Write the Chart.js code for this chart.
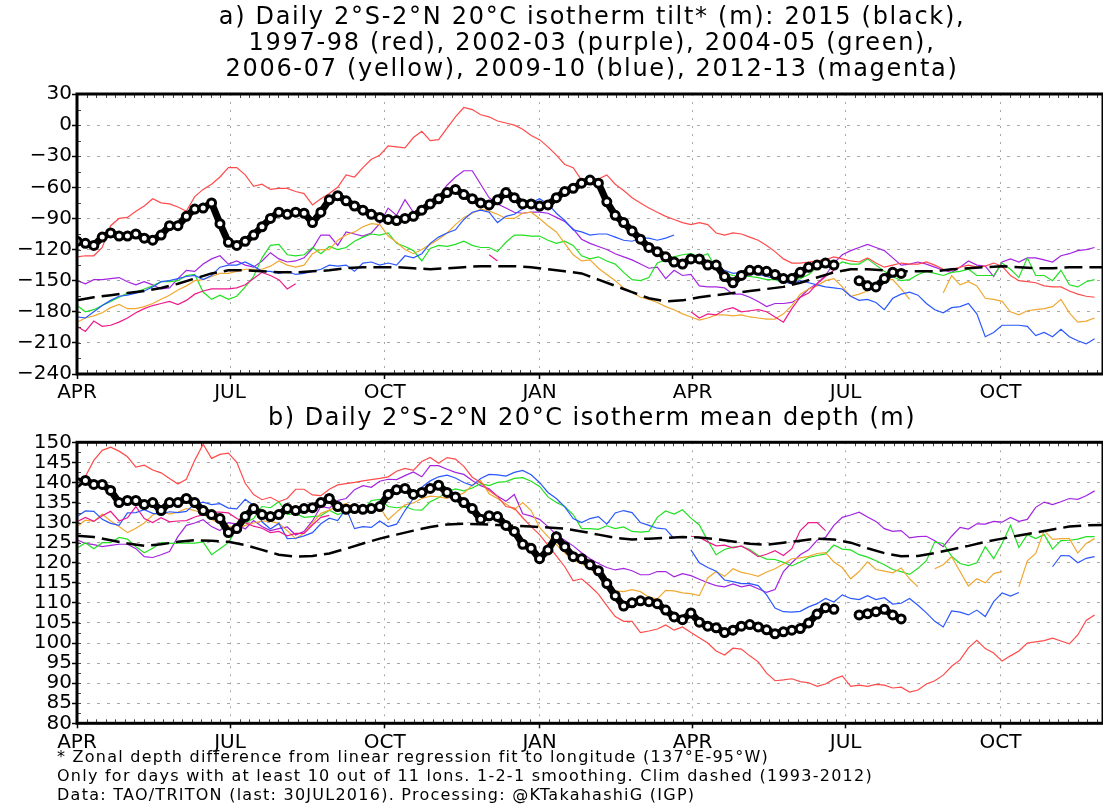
<!DOCTYPE html>
<html><head><meta charset="utf-8">
<script src="https://cdn.jsdelivr.net/npm/chart.js@4.4.1/dist/chart.umd.min.js"></script>
<style>
html,body{margin:0;padding:0;background:#fff;overflow:hidden;width:1103px;height:809px;}
canvas{position:absolute;left:0;}
#c1{top:0;} #c2{top:400px;}
.t{position:absolute;left:0;width:1184px;text-align:center;font-family:"DejaVu Sans",sans-serif;color:#000;white-space:nowrap;font-size:24px;line-height:26px;letter-spacing:1.7px;}
.f{position:absolute;left:57px;font-family:"DejaVu Sans",sans-serif;color:#000;white-space:nowrap;font-size:16px;line-height:19px;letter-spacing:1.25px;}
</style></head>
<body>
<canvas id="c1" width="1110" height="410"></canvas>
<canvas id="c2" width="1110" height="360"></canvas>
<div class="t" style="top:3px">a) Daily 2°S-2°N 20°C isotherm tilt* (m): 2015 (black),</div>
<div class="t" style="top:29px">1997-98 (red), 2002-03 (purple), 2004-05 (green),</div>
<div class="t" style="top:55px">2006-07 (yellow), 2009-10 (blue), 2012-13 (magenta)</div>
<div class="t" style="top:404px;letter-spacing:1.5px">b) Daily 2°S-2°N 20°C isotherm mean depth (m)</div>
<div class="f" style="top:747px">* Zonal depth difference from linear regression fit to longitude (137°E-95°W)</div>
<div class="f" style="top:766px">Only for days with at least 10 out of 11 lons. 1-2-1 smoothing. Clim dashed (1993-2012)</div>
<div class="f" style="top:785px">Data: TAO/TRITON (last: 30JUL2016). Processing: @KTakahashiG (IGP)</div>
<script>
// ---- x categories: days since 1 April (5-day samples) ----
const days = [0,5,10,15,20,25,30,35,40,45,50,55,60,65,70,75,80,85,90,95,100,105,110,115,120,125,130,135,140,145,150,155,160,165,170,175,180,185,190,195,200,205,210,215,220,225,230,235,240,245,250,255,260,265,270,275,280,285,290,295,300,305,310,315,320,325,330,335,340,345,350,355,360,365,370,375,380,385,390,395,400,405,410,415,420,425,430,435,440,445,450,455,460,465,470,475,480,485,490,495,500,505,510,515,520,525,530,535,540,545,550,555,560,565,570,575,580,585,590,595,600,605,610];
const climDays = [0,10,20,30,40,50,60,70,80,90,100,110,120,130,140,150,160,170,180,190,200,210,220,230,240,250,260,270,280,290,300,310,320,330,340,350,360,370,380,390,400,410,420,430,440,450,460,470,480,490,500,510,520,530,540,550,560,570,580,590,600,610];
const monthTicks = [0,91,183,275,366,457,549];
const monthLabels = ['APR','JUL','OCT','JAN','APR','JUL','OCT'];
const tiltTicks = [30,0,-30,-60,-90,-120,-150,-180,-210,-240];
const depthTicks = [150,145,140,135,130,125,120,115,110,105,100,95,90,85,80];
const N = null;

// ---- a) tilt (m) ----
const tiltBlack = [-112,-114,-116,-108,-104,-107,-107,-105,-109,-111,
-106,-97,-97,-88,-81,-80,-75,-95,-113,-116,
-112,-106,-98,-90,-84,-86,-84,-85,-94,-84,
-72,-68,-73,-78,-82,-86,-89,-91,-92,-90,
-88,-82,-76,-71,-65,-62,-67,-71,-75,-77,
-72,-65,-70,-76,-76,-78,-77,-70,-64,-61,
-56,-53,-56,-74,-87,-94,-102,-110,-118,-122,
-127,-132,-134,-129,-129,-135,-135,-146,-152,-145,
-140,-140,-141,-144,-148,-148,-142,-137,-135,-133,
-135,N,N,-150,-155,-156,-148,-142,-143,N,
N,N,N,N,N,N,N,N,N,N,
N,N,N,N,N,N,N,N,N,N,
N,N,N];
const tiltRed = [-127,-126,-126,-118,-97,-90,-89,-83,-78,-71,
-75,-76,-79,-83,-69,-62,-57,-50,-41,-41,
-48,-59,-57,-62,-61,-61,-64,-66,-77,-71,
-66,-60,-48,-50,-41,-33,-29,-20,-21,-22,
-12,-6,-15,-14,-3,8,17,15,10,8,
4,2,0,-4,-10,-14,-21,-29,-38,-41,
-53,-54,-52,-48,-57,-63,-70,-75,-80,-84,
-88,-91,-94,-96,-94,-96,-104,-106,-104,-105,
-108,-111,-116,-122,-129,-133,-133,-132,-131,-130,
-127,-129,-131,-132,-128,-133,-137,-135,-133,-134,
-134,-132,-135,-139,-140,-137,-135,-137,-136,-133,
-136,-145,-150,-151,-152,-155,-156,-156,-160,-163,
-165,-166,N];
const tiltPurple = [-150,-153,-149,-149,-148,-147,-151,-154,-151,-154,
-158,-157,-148,-140,-141,-134,-129,-126,-134,-131,
-135,-137,-131,-123,-129,-132,-131,-128,-119,-106,
-106,-116,-103,-105,-107,-104,-95,-80,-87,-72,
-84,-80,-74,-69,-58,-50,-44,-44,-57,-70,
-76,-80,-84,-85,-84,-84,-85,-89,-93,-100,
-110,-114,-117,-120,-124,-127,-130,-134,-138,-137,
-148,-140,-145,-144,-155,-156,-156,-157,-163,-163,
-166,-170,-175,-172,-172,-171,-166,-158,-153,-145,
-133,-125,-121,-118,-115,-118,-121,-128,-135,-134,
-132,-134,-137,-140,-142,-137,-131,-135,-136,-146,
-132,-129,-132,-128,-128,-130,-132,-126,-124,-121,
-120,-118,N];
const tiltGreen = [-174,-180,-178,-174,-170,-166,-162,-161,-158,-155,
-151,-151,-150,-145,-144,-161,-168,-164,-168,-165,
-156,-146,-128,-116,-115,-125,-126,-125,-118,-124,
-117,-120,-118,-112,-108,-105,-106,-104,-114,-117,
-121,-131,-119,-116,-117,-115,-112,-116,-118,-118,
-122,-113,-106,-106,-107,-107,-111,-114,-112,-116,
-126,-129,-127,-131,-134,-142,-149,-150,-147,-133,
-130,-127,-125,-124,-127,-124,-138,-143,-145,-146,
-146,-147,-149,-149,-152,-150,-148,-144,-137,-134,
-137,-132,-134,-134,-129,-135,-141,-146,-150,-149,
-144,-141,-143,-145,-142,-141,-139,-145,-145,-145,
-133,-139,-147,-128,-145,-145,-150,-140,-154,-156,
-151,-149,N];
const tiltYellow = [-190,-186,-184,-181,-176,-173,-177,-177,-175,-172,
-168,-164,-159,-155,-150,-149,-146,-143,-143,-141,
-139,-139,-139,-136,-131,-135,-137,-135,-124,-120,
-120,-111,-106,-103,-98,-95,-96,-107,-113,-120,
-124,-120,-115,-110,-104,-96,-89,-85,-81,-83,
-86,-90,-90,-85,-84,-90,-97,-103,-114,-125,
-131,-130,-138,-144,-150,-157,-161,-166,-168,-171,
-175,-178,-182,-185,-188,-186,-183,-183,-184,-183,
-185,-186,-187,-187,-182,-174,-163,-158,-155,-150,
-148,-156,-165,-163,-160,-155,-149,-149,-158,-168,
N,N,N,-162,-145,-154,-151,-155,-167,-168,
-170,-180,-183,-179,-178,-177,-175,-168,-181,-190,
-189,-186,N];
const tiltBlue = [-185,-186,-180,-174,-169,-165,-164,-162,-160,-156,
-151,-150,-148,-146,-145,-149,-145,-137,-135,-135,
-132,-136,-141,-141,-143,-141,-144,-143,-141,-139,
-135,-136,-135,-141,-133,-132,-135,-133,-135,-126,
-128,-124,-114,-108,-104,-101,-91,-84,-82,-84,
-94,-88,-86,-81,-75,-71,-76,-85,-92,-101,
-103,-106,-105,-105,-108,-111,-112,-109,-109,-111,
-109,-106,N,-125,-130,-134,-138,-140,-143,-142,
-143,-144,-146,-148,-151,-153,-150,-152,-154,-156,
-157,-158,-165,-169,-168,-171,-178,-167,-163,-161,
-164,-172,-178,-181,-176,-175,-172,-182,-204,-200,
-193,-193,-193,-194,-203,-200,-204,-197,-204,-208,
-211,-206,N];
const tiltMagenta = [-194,-199,-189,-194,-193,-190,-186,-181,-177,-174,
-172,-170,-173,-169,-163,-160,-158,-158,-158,-157,
-154,-148,-142,-145,-149,-158,-153,N,N,N,
N,N,N,N,N,N,N,N,N,N,
N,N,N,N,N,N,N,N,N,-125,
-131,N,N,N,N,N,N,N,N,N,
N,N,N,N,N,N,N,N,N,N,
N,N,N,-180,-186,-182,-183,-178,-176,-180,
-179,-178,-180,-185,-190,-177,-166,-162,-153,-146,
-140,N,N,N,N,N,N,N,N,N,
N,N,N,N,N,N,N,N,N,N,
N,N,N,N,N,N,N,N,N,N,
N,N,N];
const tiltClim = [-169,-166,-164,-162,-160,-157,-153,-148,-143,-140,
-140,-141,-142,-142,-141,-140,-138,-137,-137,-137,
-138,-139,-138,-137,-136,-136,-136,-137,-139,-141,
-143,-149,-155,-161,-167,-170,-169,-166,-164,-162,
-160,-158,-156,-152,-147,-142,-139,-139,-140,-141,
-141,-141,-139,-138,-137,-136,-137,-138,-138,-137,
-137,-137];

// ---- b) mean depth (m) ----
const depthBlack = [140,140.5,139.5,139.5,138,135,135.5,135.5,134.5,135,
133,135,135,136,135,133,132,131,127.5,128.5,
131.5,133.5,132,131.5,132,133.5,133,133.5,133.7,135,
136,134,133.3,133.5,133.3,133.5,134,137,138.2,138.5,
137,137.5,138.5,139.3,137.5,136.4,135,133.5,130.8,131.7,
131.5,129.3,127.8,124.6,123.6,121,123.2,126.5,124,121.5,
121,119.5,118,114.8,111.8,109.2,110,110.5,110.3,109.8,
108.2,106.5,105.8,107.5,105.2,104.2,103.8,102.6,103.2,104.2,
104.6,104,103.3,102.3,102.8,103.2,103.6,105,107.2,108.8,
108.4,N,N,107,107.3,107.8,108.4,107,106,N,
N,N,N,N,N,N,N,N,N,N,
N,N,N,N,N,N,N,N,N,N,
N,N,N];
const depthRed = [140.6,141.5,145.5,148,148.8,147.8,146.4,143.8,144.3,143.1,
142.4,141,139.6,140.8,145.5,149.5,146,147,147.3,145,
139.8,137,135.7,136.3,135.2,136,138.3,138.3,136.9,136.7,
138.3,139.4,139.7,140,140.4,140.7,141,141.4,142.8,143.5,
143,145.2,146.2,144.8,146.2,145.8,144,141.3,140,138,
136.5,134,133.6,131.2,129,127,124.4,121.7,119,115.5,
116,114.2,112.2,109.3,106.6,105.4,105.4,102.6,103,103.5,
104.5,103.2,104,102.6,101.3,100,98,97,98.7,98.5,
96.8,95.3,92.5,90.6,90.8,91.1,90.4,90.1,89.2,89.8,
91,91.8,89.2,89.5,89.2,89.7,89.5,88.8,89,87.8,
88.3,89.8,90.6,92,94.2,95.8,98.8,100.7,98.6,97.5,
95.5,96.8,98,100,100.3,100.6,101.2,100.5,99.8,102,
105.6,107,N];
const depthPurple = [125.7,124.8,124.5,124,124.3,124.6,124.6,123.5,121.5,121.3,
122,122.8,126.5,129.3,129.9,130.7,129,128,130,129.6,
128.4,130.5,129,128,128.5,128.9,126.9,127.8,130.4,134,
133.6,135.5,136,138.2,139.2,138.8,140.3,140.8,140.7,141.7,
142.6,141.4,144.2,144.2,143.3,142.5,142,140.5,139.2,138.4,
136.6,135.3,137,132.2,131.6,130.8,129,127,125.6,124.2,
122.5,121,119.8,118.8,118.2,118.6,118,117,117,117.8,
117.8,116.5,117.3,116.8,115.9,115,114.3,114,114.7,114,
114.4,113.5,112.6,113.3,117.8,120,122,123.2,125.6,126.3,
129.3,131.3,131.9,132.6,131.4,130.3,128.5,127.8,128,126.2,
126.5,126.6,125.5,124,126.6,128.8,128.4,129.7,129.6,130.3,
130.1,131.3,130.3,130.8,133.8,135.1,134.5,135.2,136,135.8,
136.7,137.9,N];
const depthGreen = [123.6,125,123.5,125,125,126.3,125.9,124,122.5,123.6,
125,124.8,124.9,124.9,124.9,125.2,122,123.5,125,128.5,
130,131,134,133.7,135.2,132,132.3,131.3,131.5,131.7,
133.1,132,132.8,132.6,133,135.5,135.8,134,133.7,134,
133.2,133.1,135.2,136.2,137.7,138.4,137.9,138.6,139.7,139.2,
140,140.2,141,141.2,140.3,139,136.4,135,134,132,
128.5,128.5,128.3,129.2,128.5,128.9,127.8,127.6,127.8,131.3,
132.9,132.1,133.2,131.1,129.4,125.5,122,123.3,123.9,124.1,
123.3,121.8,120.9,120.8,120.1,119.2,120.2,121.3,121.8,122.2,
124.4,123.4,123.2,122,121.4,120.5,119.5,118.3,117.8,117.1,
118.6,120.5,125.2,124.8,121.6,119.8,119.3,120,124,121,
124.8,129.3,123.8,127,126,127,123.4,125.5,125.6,125.9,
126.5,126.5,N];
const depthYellow = [129,130.6,130.3,132.1,130.4,129,127.5,128.6,129.9,131.9,
132.8,132.1,132.6,133.5,133,132.2,130.8,129.8,129.2,128.5,
129.3,129.9,130.4,130.3,129.8,128,126,127.4,129.9,132.3,
133.1,134.2,134.7,133.8,133.3,134.3,133.8,130.7,132.6,134.4,
134.9,136,136.6,136.4,136,136.5,137.4,139.3,140.5,137.2,
136,134.6,133.2,135,133,128.8,126.5,124.5,122.5,120.5,
119.8,118.4,117,114.7,113,112.8,113.3,112.8,111.4,111,
113.1,113,112.5,112.3,111.8,116.2,117.8,116.6,118.5,117.6,
117.2,116.6,117.7,118.5,119.7,121,121.2,121.6,122.3,122.5,
120.2,118.8,116,117.8,120.2,118.3,117.9,117.5,118.7,116,
114,N,118.5,119.5,121.5,117.8,114.2,116,115,117.3,
117.8,N,114,120.5,122.3,128,125.8,126,126,122.4,
124.8,126,N];
const depthBlue = [131.5,132.9,132.8,130.8,129.8,129.3,132.4,132.5,133.2,132.3,
132.1,132.7,132.5,132.8,134.6,135.1,134.5,134.7,133.6,133.4,
135.8,134.3,130.2,128.4,129.8,126,126.1,126.7,127.5,129.7,
131.1,130.5,133.5,128.5,129,128.8,130.4,129,129.6,133,
136,138.8,140.4,141.4,141.8,141.1,140,139.2,141,142,
141.9,141.6,142.5,143,141.9,140,137.5,136,133.9,131,
130,131,131.5,129.6,132.4,133,132.5,130,129.3,128.6,
128.4,126,N,123.2,120,118.8,117.9,115.7,115.3,114.8,
114.8,114.3,112,108.7,107.8,107.7,107.9,109,109.8,111.1,
110.2,112,111.1,110.8,111.8,110.8,111.3,109.7,109.9,111.1,
109.4,107.5,105.4,104,108,107.7,107,108.2,106.6,110.3,
112.5,111.7,112.6,N,114.3,N,119,121.8,121.7,120,
121.1,121.5,N];
const depthMagenta = [130.2,131.3,130.3,131.7,132.8,130.4,131.2,134,131,130,
131.2,130.2,130.4,130.5,131.4,132,132.6,132.6,132.4,131,
130,129.1,128.6,127.5,127.8,126.7,127.3,127.3,129.4,131.3,
131.8,N,N,N,N,N,N,N,N,N,
N,N,N,N,N,N,N,N,N,N,
N,N,N,N,N,N,N,N,N,N,
N,N,N,N,N,N,N,N,N,N,
N,N,N,126.6,126.3,125.2,124.2,124.4,123.7,124.2,
123,121.5,122.1,123,121.8,123.5,128,130,130,128,
N,N,N,N,N,N,N,N,N,N,
N,N,N,N,N,N,N,N,N,N,
N,N,N,N,N,N,N,N,N,N,
N,N,N];
const depthClim = [126.7,126.4,125.6,124.8,124.2,124.6,125.2,125.6,125.5,125.2,
124.4,123.2,122,121.5,121.7,122.3,123.5,124.8,126,127,
128,128.9,129.5,129.7,129.6,129.4,129.2,129,128.8,128.5,
127.8,127,126.2,125.8,126,126.2,126.4,126.3,125.9,125.3,
124.7,124.5,125,125.5,126,125.8,125,123.6,122.4,121.6,
121.7,122.4,123.3,124.2,125.2,126,126.8,127.5,128.3,129,
129.3,129.4];

// ---- drawing ----
const FONT = '"DejaVu Sans", sans-serif';
const COL = {red:'#ff4b4b', purple:'#a424e0', green:'#22e022', yellow:'#f0a830', blue:'#2a58ff', magenta:'#ee1a8c'};

function pts(xs, ys){ return xs.map((x,i)=>({x:x, y:ys[i]})); }
function line(xs, ys, color, w, extra){
  return Object.assign({data:pts(xs,ys), borderColor:color, borderWidth:w, pointRadius:0, fill:false, tension:0, spanGaps:false}, extra||{});
}

const framePlugin = {
  id:'frame',
  afterDatasetsDraw(chart, args, opts){
    const ctx = chart.ctx, a = chart.chartArea, xs = chart.scales.x, ys = chart.scales.y;
    ctx.save();
    ctx.strokeStyle = '#444'; ctx.lineWidth = 1;
    ctx.beginPath();
    for(let m=0;m<monthTicks.length;m++){
      const d0 = monthTicks[m];
      const d1 = m<monthTicks.length-1 ? monthTicks[m+1] : d0+92;
      const step = (d1-d0)/16;
      for(let k=1;k<16;k++){
        const d = d0+step*k; if(d>=610) break;
        const px = Math.round(xs.getPixelForValue(d))+0.5;
        ctx.moveTo(px,a.top); ctx.lineTo(px,a.top+4);
        ctx.moveTo(px,a.bottom); ctx.lineTo(px,a.bottom-4);
      }
    }
    for(let v=ys.min+opts.minorStep; v<ys.max; v+=opts.minorStep){
      const py = Math.round(ys.getPixelForValue(v))+0.5;
      ctx.moveTo(a.left,py); ctx.lineTo(a.left+4,py);
    }
    ctx.stroke();
    ctx.strokeStyle = '#000'; ctx.lineWidth = 3;
    ctx.strokeRect(a.left, a.top, a.right-a.left, a.bottom-a.top);
    ctx.restore();
  }
};

function makeChart(id, cfg){
  return new Chart(document.getElementById(id), {
    type:'line',
    data:{datasets:cfg.datasets},
    options:{
      responsive:false, animation:false, devicePixelRatio:1, events:[],
      layout:{padding:{top:cfg.padTop, right:3, left:0, bottom:0}},
      plugins:{legend:{display:false}, tooltip:{enabled:false}, title:{display:false}, frame:{minorStep:cfg.minorStep}},
      scales:{
        x:{type:'linear', min:0, max:610,
          afterBuildTicks:s=>{ s.ticks = monthTicks.map(v=>({value:v})); },
          afterFit:s=>{ s.height = cfg.xHeight; },
          ticks:{autoSkip:false, maxRotation:0, minRotation:0, padding:2, color:'#000', font:{family:FONT, size:20},
                 callback:(v,i)=>monthLabels[i]},
          grid:{color:'#a8a8a8', lineWidth:1, drawTicks:true, tickLength:5, tickColor:'#000', tickWidth:1.5},
          border:{display:false, dash:[2,6]}},
        y:{type:'linear', min:cfg.yMin, max:cfg.yMax,
          afterBuildTicks:s=>{ s.ticks = cfg.yTicks.map(v=>({value:v})); },
          afterFit:s=>{ s.width = 77; },
          ticks:{autoSkip:false, padding:0, color:'#000', font:{family:FONT, size:20, lineHeight:1},
                 callback:v=> v<0 ? '\u2212'+Math.abs(v) : String(v)},
          grid:{color:'#a8a8a8', lineWidth:1, drawTicks:true, tickLength:5, tickColor:'#000', tickWidth:1.5},
          border:{display:false, dash:[3,7]}}
      }
    },
    plugins:[framePlugin]
  });
}

const blackStyle = {borderWidth:7, pointRadius:4, pointBorderWidth:3, pointBackgroundColor:'#fff', pointBorderColor:'#000', pointStyle:'circle'};
const climStyle = {borderDash:[18,7], borderCapStyle:'butt'};

makeChart('c1', {
  padTop:94, xHeight:36, yMin:-240, yMax:30, yTicks:tiltTicks, minorStep:15,
  datasets:[
    line(days, tiltBlack, '#000', 7, blackStyle),
    line(climDays, tiltClim, '#000', 2.5, climStyle),
    line(days, tiltRed, COL.red, 1.2),
    line(days, tiltMagenta, COL.magenta, 1.2),
    line(days, tiltBlue, COL.blue, 1.2),
    line(days, tiltYellow, COL.yellow, 1.2),
    line(days, tiltGreen, COL.green, 1.2),
    line(days, tiltPurple, COL.purple, 1.2)
  ]
});
makeChart('c2', {
  padTop:42.3, xHeight:36.7, yMin:80, yMax:150, yTicks:depthTicks, minorStep:2.5,
  datasets:[
    line(days, depthBlack, '#000', 7, blackStyle),
    line(climDays, depthClim, '#000', 2.5, climStyle),
    line(days, depthRed, COL.red, 1.2),
    line(days, depthMagenta, COL.magenta, 1.2),
    line(days, depthBlue, COL.blue, 1.2),
    line(days, depthYellow, COL.yellow, 1.2),
    line(days, depthGreen, COL.green, 1.2),
    line(days, depthPurple, COL.purple, 1.2)
  ]
});
</script>
</body></html>
